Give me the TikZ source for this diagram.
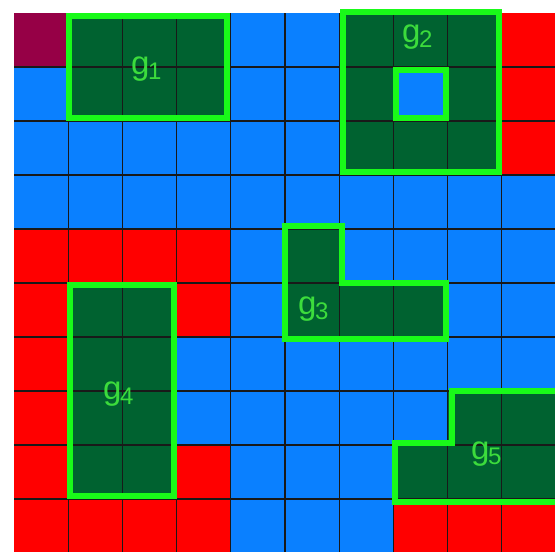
\documentclass[tikz,border=0pt]{standalone}
\usepackage{fontspec}
\newfontfamily\labfont{Liberation Sans}
\definecolor{cM}{RGB}{150,0,70}
\definecolor{cB}{RGB}{10,128,255}
\definecolor{cR}{RGB}{255,0,0}
\definecolor{cG}{RGB}{0,98,48}
\definecolor{outl}{RGB}{25,250,25}
\definecolor{labc}{RGB}{60,220,60}
\newcommand\sublab[1]{\kern-1.5pt\lower5pt\hbox{\fontsize{24}{24}\selectfont #1}}
\begin{document}
\begin{tikzpicture}[x=1pt,y=-1pt,
  gridline/.style={line width=1.3pt, black!90},
  outline/.style={draw=outl, line width=6pt, line join=miter},
  lab/.style={text=labc, font=\labfont\fontsize{33}{33}\selectfont, inner sep=0pt, anchor=base west}]
\fill[white] (0,0) rectangle (555,552);
\useasboundingbox (0,0) rectangle (555,552);
\clip (0,0) rectangle (555,552);
% cells
\foreach \row [count=\r from 0] in {
  {M,G,G,G,B,B,G,G,G,R},
  {B,G,G,G,B,B,G,B,G,R},
  {B,B,B,B,B,B,G,G,G,R},
  {B,B,B,B,B,B,B,B,B,B},
  {R,R,R,R,B,G,B,B,B,B},
  {R,G,G,R,B,G,G,G,B,B},
  {R,G,G,B,B,B,B,B,B,B},
  {R,G,G,B,B,B,B,B,G,G},
  {R,G,G,R,B,B,B,G,G,G},
  {R,R,R,R,B,B,B,R,R,R}}{
  \foreach \c [count=\k from 0] in \row {
    \fill[c\c] ({14+54.2*\k},{13+54*\r}) rectangle ({14+54.2*(\k+1)},{13+54*(\r+1)});
  }
}
% grid lines
\foreach \i in {1,...,9} {
  \draw[gridline] ({14+54.2*\i},13) -- ({14+54.2*\i},560);
  \draw[gridline] (14,{13+54*\i}) -- (560,{13+54*\i});
}
% object outlines
\draw[outline] (68.5,15.5) rectangle (227,118);
\draw[outline] (343,12) rectangle (499,171.5);
\draw[outline] (395.5,69.5) rectangle (446,118);
\draw[outline] (284.5,226) -- (342,226) -- (342,283) -- (446,283) -- (446,338.5) -- (284.5,338.5) -- cycle;
\draw[outline] (70,284.5) rectangle (174,496);
\draw[outline] (451.5,390.5) -- (565,390.5) -- (565,501.5) -- (394.5,501.5) -- (394.5,442.5) -- (451.5,442.5) -- cycle;
% labels
\node[lab] (g1) at (131,74) {g\sublab{1}};
\node[lab] (g2) at (402,42) {g\sublab{2}};
\node[lab] (g3) at (298,314) {g\sublab{3}};
\node[lab] (g4) at (103,399) {g\sublab{4}};
\node[lab] (g5) at (471,459) {g\sublab{5}};
\end{tikzpicture}
\end{document}
